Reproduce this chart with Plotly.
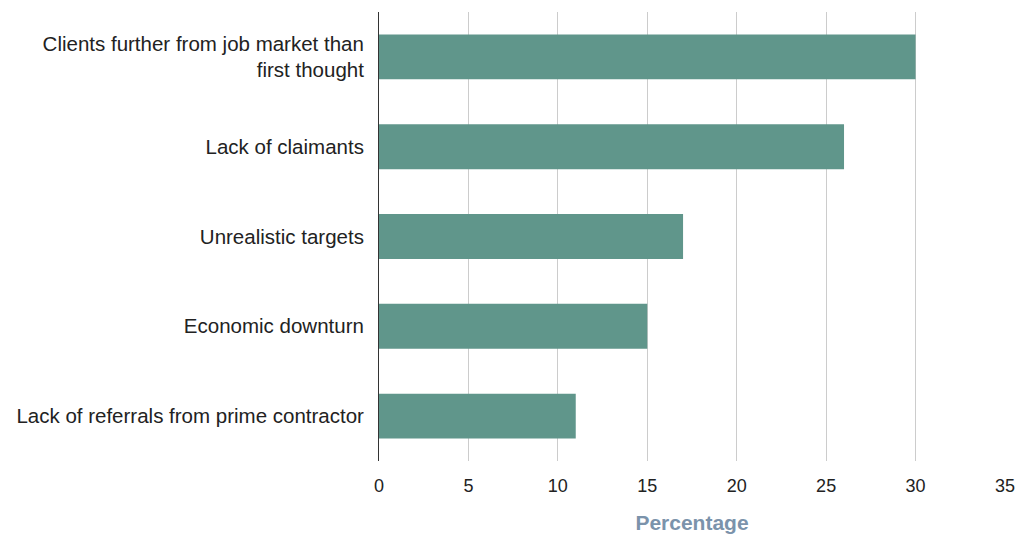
import plotly.graph_objects as go

categories = [
    "Clients further from job market than<br>first thought",
    "Lack of claimants",
    "Unrealistic targets",
    "Economic downturn",
    "Lack of referrals from prime contractor",
]
percentages = [30, 26, 17, 15, 11]
tick_values = [0, 5, 10, 15, 20, 25, 30, 35]

fig = go.Figure(
    go.Bar(
        x=percentages,
        y=categories,
        orientation="h",
        marker=dict(color="#60968b", line=dict(width=0)),
        width=0.5,
    )
)

fig.update_layout(
    width=1028,
    height=534,
    margin=dict(l=379, r=23, t=12, b=73),
    plot_bgcolor="white",
    paper_bgcolor="white",
    font=dict(family="Liberation Sans, Arial, sans-serif", size=21, color="#222222"),
    showlegend=False,
    bargap=0.5,
)

fig.update_xaxes(
    range=[0, 35],
    tickvals=tick_values,
    showgrid=True,
    gridcolor="#cccccc",
    gridwidth=1,
    zeroline=False,
    showline=False,
    ticks="",
    ticklabelstandoff=12,
    tickfont=dict(size=18, color="#222222"),
    automargin=False,
    title=dict(
        text="<b>Percentage</b>",
        font=dict(size=21, color="#7b93ab"),
        standoff=20,
    ),
)

fig.update_yaxes(
    autorange="reversed",
    showgrid=False,
    showline=True,
    linecolor="#333333",
    linewidth=1,
    ticks="",
    ticklabelstandoff=10,
    automargin=False,
    tickfont=dict(size=20.5, color="#222222"),
)

fig.write_html("out.html")
